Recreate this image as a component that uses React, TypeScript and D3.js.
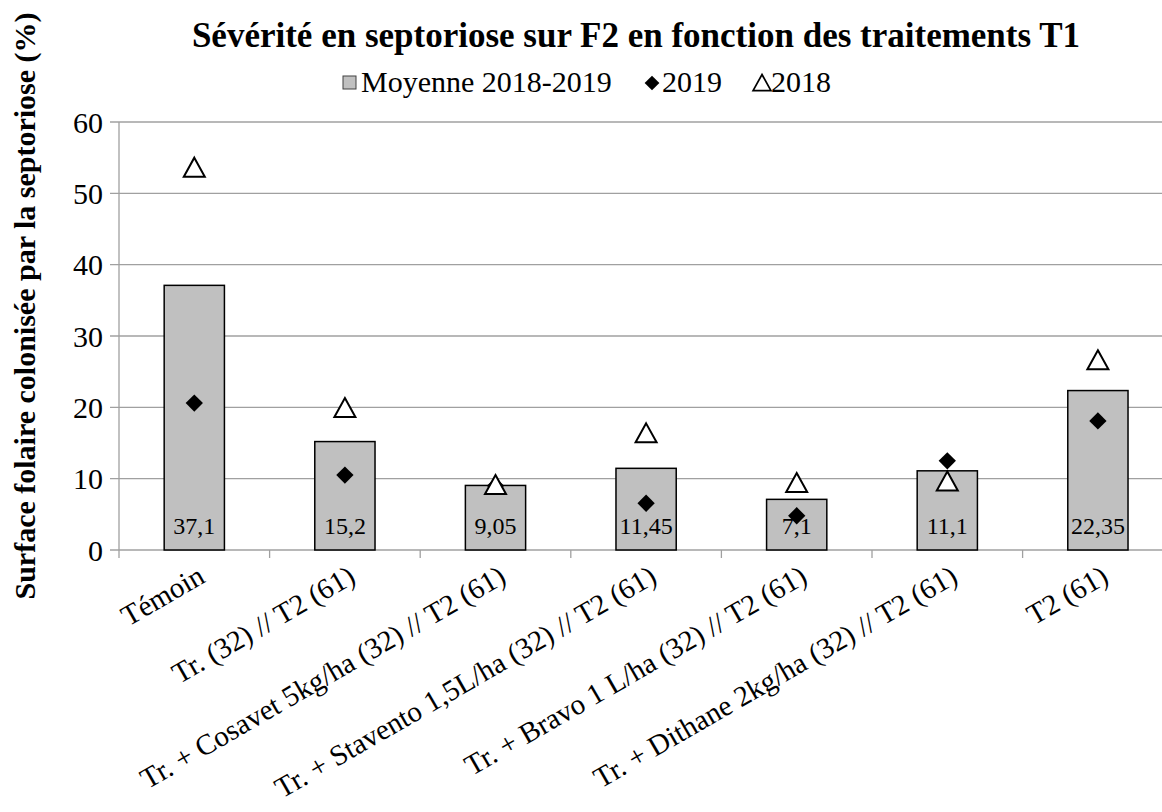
import React from "react";
import * as d3 from "d3";

const categories = [
  "Témoin",
  "Tr. (32) // T2 (61)",
  "Tr. + Cosavet 5kg/ha (32) // T2 (61)",
  "Tr. + Stavento 1,5L/ha (32) // T2 (61)",
  "Tr. + Bravo 1 L/ha (32) // T2 (61)",
  "Tr. + Dithane 2kg/ha (32) // T2 (61)",
  "T2 (61)",
];
const moyenne = [37.1, 15.2, 9.05, 11.45, 7.1, 11.1, 22.35];
const moyenneLabels = ["37,1", "15,2", "9,05", "11,45", "7,1", "11,1", "22,35"];
const values2019 = [20.6, 10.5, 9.0, 6.55, 4.8, 12.5, 18.1];
const values2018 = [53.6, 19.9, 9.1, 16.35, 9.4, 9.6, 26.6];
const yTicks = [0, 10, 20, 30, 40, 50, 60];

const W = 1162;
const H = 812;
const FONT = "'Liberation Serif', 'Times New Roman', Times, serif";

export default function App() {
  const plotLeft = 119;
  const plotRight = 119 + 7 * 150.6;
  const x = d3.scaleBand<string>().domain(categories).range([plotLeft, plotRight]).paddingInner(0).paddingOuter(0);
  const y = d3.scaleLinear().domain([0, 60]).range([550, 122]);
  const bw = x.bandwidth() * 0.4;
  const diamond = d3.symbol(d3.symbolSquare, 150)();
  const tri = "M0,-10L10.5,9L-10.5,9Z";
  const gridColor = "#a0a0a0";

  return (
    <svg width={W} height={H} style={{ position: "absolute", left: 0, top: 0, background: "#fff" }} fontFamily={FONT}>
      <rect x={0} y={0} width={W} height={H} fill="#fff" />
      <text x={636} y={47} textAnchor="middle" fontWeight="bold" fontSize={35}>
        Sévérité en septoriose sur F2 en fonction des traitements T1
      </text>
      {/* legend */}
      <g fontSize={30}>
        <rect x={343} y={76} width={13} height={13} fill="#c0c0c0" stroke="#404040" strokeWidth={1} />
        <text x={361} y={92}>Moyenne 2018-2019</text>
        <path d={diamond} transform={`translate(652,83) rotate(45) scale(0.85)`} fill="#000" />
        <text x={662} y={92}>2019</text>
        <path d={tri} transform={`translate(762,83) scale(0.85)`} fill="#fff" stroke="#000" strokeWidth={2} />
        <text x={771} y={92}>2018</text>
      </g>
      {/* y title */}
      <text
        transform={`translate(35,306) rotate(-90)`}
        textAnchor="middle"
        fontWeight="bold"
        fontSize={30}
      >
        Surface folaire colonisée par la septoriose (%)
      </text>
      {/* gridlines */}
      {yTicks.map((t) => (
        <line key={t} x1={110} x2={W} y1={y(t)} y2={y(t)} stroke={gridColor} strokeWidth={1.3} />
      ))}
      {/* y axis */}
      <line x1={plotLeft} x2={plotLeft} y1={y(60)} y2={558} stroke={gridColor} strokeWidth={1.3} />
      {yTicks.map((t) => (
        <text key={t} x={103} y={y(t)} dy="0.35em" textAnchor="end" fontSize={30}>
          {t}
        </text>
      ))}
      {/* category ticks */}
      {categories.map((c) => (
        <line key={c} x1={(x(c) as number) + x.bandwidth()} x2={(x(c) as number) + x.bandwidth()} y1={550} y2={558} stroke={gridColor} strokeWidth={1.3} />
      ))}
      {/* bars */}
      {categories.map((c, i) => {
        const cx = (x(c) as number) + x.bandwidth() / 2;
        return (
          <g key={c}>
            <rect x={cx - bw / 2} y={y(moyenne[i])} width={bw} height={y(0) - y(moyenne[i])} fill="#c0c0c0" stroke="#000" strokeWidth={1.5} />
            <text x={cx} y={534} textAnchor="middle" fontSize={24}>
              {moyenneLabels[i]}
            </text>
          </g>
        );
      })}
      {/* markers */}
      {categories.map((c, i) => {
        const cx = (x(c) as number) + x.bandwidth() / 2;
        return (
          <g key={"m" + c}>
            <path d={diamond} transform={`translate(${cx},${y(values2019[i])}) rotate(45)`} fill="#000" />
            <path d={tri} transform={`translate(${cx},${y(values2018[i])})`} fill="#fff" stroke="#000" strokeWidth={2} />
          </g>
        );
      })}
      {/* category labels */}
      {categories.map((c) => {
        const cx = (x(c) as number) + x.bandwidth() / 2;
        return (
          <text
            key={"l" + c}
            transform={`translate(${cx + 2},${564}) rotate(-30)`}
            textAnchor="end"
            dy="0.7em"
            fontSize={29}
          >
            {c}
          </text>
        );
      })}
    </svg>
  );
}
